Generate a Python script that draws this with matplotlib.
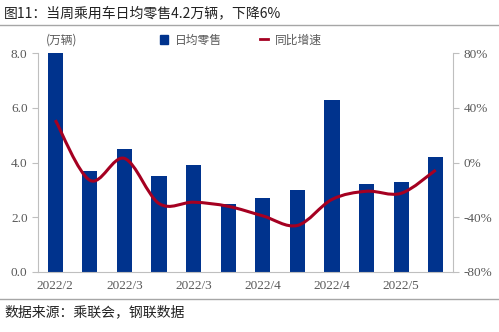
import numpy as np
import matplotlib.pyplot as plt
from matplotlib.path import Path
from matplotlib.patches import PathPatch
from matplotlib.lines import Line2D
from matplotlib.patches import Patch

plt.rcParams['font.family'] = ['Noto Sans CJK SC', 'DejaVu Sans']

# data
labels = ['2022/2', '', '2022/3', '', '2022/3', '', '2022/4', '', '2022/4', '', '2022/5', '']
sales = [8.0, 3.7, 4.5, 3.5, 3.9, 2.5, 2.7, 3.0, 6.3, 3.2, 3.3, 4.2]
yoy = [31, -13, 3, -30, -29, -32, -39, -46, -27, -21, -22.5, -5.5]

bar_color = '#00338D'
line_color = '#A50021'
grey = '#595959'
serif = ['Liberation Serif', 'DejaVu Serif']

fig = plt.figure(figsize=(4.99, 3.32), dpi=100)
ax = fig.add_axes([38/499, 1 - 272/332, (453-38)/499, (272-53)/332])
ax2 = ax.twinx()

x = np.arange(len(sales))
ax.bar(x, sales, width=0.44, color=bar_color, zorder=2)
ax.set_xlim(-0.5, len(sales) - 0.5)
ax.set_ylim(0, 8)
ax.set_yticks([0, 2, 4, 6, 8])
ax.set_yticklabels([f'{v:.1f}' for v in [0, 2, 4, 6, 8]])
ax.set_xticks(x)
ax.set_xticklabels(labels)

# smooth line (Catmull-Rom as cubic bezier segments)
pts = np.column_stack([x, yoy]).astype(float)
verts = [tuple(pts[0])]
codes = [Path.MOVETO]
n = len(pts)
for i in range(n - 1):
    p0 = pts[max(i - 1, 0)]
    p1 = pts[i]
    p2 = pts[i + 1]
    p3 = pts[min(i + 2, n - 1)]
    c1 = p1 + (p2 - p0) / 6
    c2 = p2 - (p3 - p1) / 6
    verts += [tuple(c1), tuple(c2), tuple(p2)]
    codes += [Path.CURVE4] * 3
ax2.add_patch(PathPatch(Path(verts, codes), facecolor='none', edgecolor=line_color, lw=2.2, zorder=3))
ax2.set_ylim(-80, 80)
ax2.set_yticks([-80, -40, 0, 40, 80])
ax2.set_yticklabels([f'{v}%' for v in [-80, -40, 0, 40, 80]])

for a in (ax, ax2):
    for s in a.spines.values():
        s.set_visible(False)
    a.tick_params(colors='#BFBFBF', labelcolor=grey, length=4, labelsize=9.5)
    for t in a.get_yticklabels() + a.get_xticklabels():
        t.set_fontfamily(serif)
ax.spines['left'].set_visible(True)
ax.spines['left'].set_color('#BFBFBF')
ax.spines['bottom'].set_visible(True)
ax.spines['bottom'].set_color('#BFBFBF')
ax2.spines['right'].set_visible(True)
ax2.spines['right'].set_color('#BFBFBF')
ax.tick_params(axis='x', length=0, pad=6)

# legend and unit label
fig.text(46/499, 1 - 40/332, '(万辆)', fontsize=8.5, color=grey, va='center')
handles = [Patch(color=bar_color, label='日均零售'),
           Line2D([], [], color=line_color, lw=2, label='同比增速')]
fig.legend(handles=handles, loc='center', bbox_to_anchor=(241/499, 1 - 40/332), ncol=2,
           frameon=False, fontsize=8.5, handlelength=0.7, handleheight=0.7,
           columnspacing=3.2, handletextpad=0.6, labelcolor=grey)

# title, source and rules
fig.text(4/499, 1 - 13/332, '图11：当周乘用车日均零售4.2万辆，下降6%', fontsize=10,
         color='#222222', va='center')
fig.add_artist(Line2D([0, 1], [1 - 25/332, 1 - 25/332], color='#A6A6A6', lw=1))
fig.add_artist(Line2D([0, 1], [1 - 299/332, 1 - 299/332], color='#A6A6A6', lw=1))
fig.text(4/499, 1 - 312/332, '数据来源：乘联会，钢联数据', fontsize=10, color='#222222', va='center')

fig.savefig('out.png', dpi=100)
